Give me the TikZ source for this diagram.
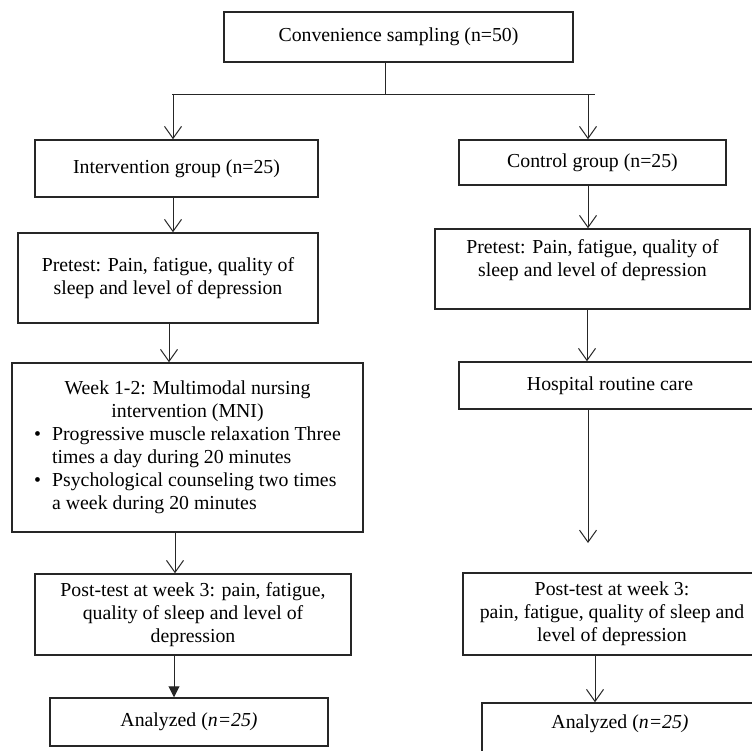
\documentclass[tikz,border=0pt]{standalone}
\usepackage{fontspec}
\setmainfont{Liberation Serif}
\usetikzlibrary{arrows.meta}
\begin{document}
\begin{tikzpicture}[x=1pt,y=-1pt,
  box/.style={draw=black!85, line width=1.5pt, rectangle, align=center, inner sep=0pt,
    font=\fontsize{19.8}{23}\selectfont},
  conn/.style={draw=black!85, line width=1pt},
  arr/.style={conn, -{Straight Barb[length=12pt,width=17pt]}},
  arrf/.style={conn, -{Triangle[length=11pt,width=11pt]}}]
\useasboundingbox (0,0) rectangle (752,751);
\clip (0,0) rectangle (752,751);
\fill[white] (0,0) rectangle (752,751);

% boxes
\node[box, minimum width=349pt, minimum height=50pt] (conv) at (398.5,37) {Convenience sampling (n=50)};
\node[box, minimum width=283pt, minimum height=57pt] (int) at (176.5,168.5) {Intervention group (n=25)};
\node[box, minimum width=300pt, minimum height=90pt] (pre1) at (168,278) {Pretest: Pain, fatigue, quality of\\sleep and level of depression};
\node[box, minimum width=351pt, minimum height=169pt] (week) at (187.5,447.5) {%
  \begin{tabular}{@{}l@{\hspace{11pt}}l@{}}
  \multicolumn{2}{@{}c@{}}{Week 1-2: Multimodal nursing}\\
  \multicolumn{2}{@{}c@{}}{intervention (MNI)}\\
  \textbullet & Progressive muscle relaxation Three\\
   & times a day during 20 minutes\\
  \textbullet & Psychological counseling two times\\
   & a week during 20 minutes
  \end{tabular}};
\node[box, minimum width=316pt, minimum height=81pt] (post1) at (193,614.5) {Post-test at week 3: pain, fatigue,\\quality of sleep and level of\\depression};
\node[box, minimum width=278pt, minimum height=48pt] (ana1) at (189,722) {Analyzed (\textit{n=25)}};

\node[box, minimum width=267pt, minimum height=45pt] (ctrl) at (592.5,162.5) {Control group (n=25)};
\node[box, minimum width=315pt, minimum height=80pt] (pre2) at (592.5,269) {%
  \raisebox{9pt}[\height][\depth]{\begin{tabular}{@{}c@{}}Pretest: Pain, fatigue, quality of\\sleep and level of depression\end{tabular}}};
\node[box, minimum width=302pt, minimum height=47pt] (hosp) at (610,385.5) {Hospital routine care};
\node[box, minimum width=298pt, minimum height=82pt] (post2) at (612,614) {Post-test at week 3:\\pain, fatigue, quality of sleep and\\level of depression};
\node[box, minimum width=276pt, minimum height=52pt] (ana2) at (620,729) {%
  \raisebox{5pt}[\height][\depth]{Analyzed (\textit{n=25)}}};

% split
\coordinate (split) at (385,95);
\coordinate (hl) at (172,95);
\coordinate (hr) at (595,95);
\coordinate (L) at (173,95);
\coordinate (R) at (588,95);
\coordinate (hend) at (588,543);

\draw[conn] (conv.south -| split) -- (split);
\draw[conn] (hl) -- (hr);
\draw[arr] (L) -- (int.north -| L);
\draw[arr] (R) -- (ctrl.north -| R);

% left column
\draw[arr] ([xshift=-3.5pt]int.south) -- ([xshift=-3.5pt]int.south |- pre1.north);
\draw[arr] ([xshift=1pt]pre1.south) -- ([xshift=1pt]pre1.south |- week.north);
\draw[arr] ([xshift=-12.5pt]week.south) -- ([xshift=-12.5pt]week.south |- post1.north);
\draw[arrf] ([xshift=-19pt]post1.south) -- ([xshift=-19pt]post1.south |- ana1.north);

% right column
\draw[arr] ([xshift=-4.5pt]ctrl.south) -- ([xshift=-4.5pt]ctrl.south |- pre2.north);
\draw[arr] ([xshift=-5.5pt]pre2.south) -- ([xshift=-5.5pt]pre2.south |- hosp.north);
\draw[arr] (hosp.south -| hend) -- (hend);
\draw[arr] ([xshift=-17pt]post2.south) -- ([xshift=-17pt]post2.south |- ana2.north);
\end{tikzpicture}
\end{document}
